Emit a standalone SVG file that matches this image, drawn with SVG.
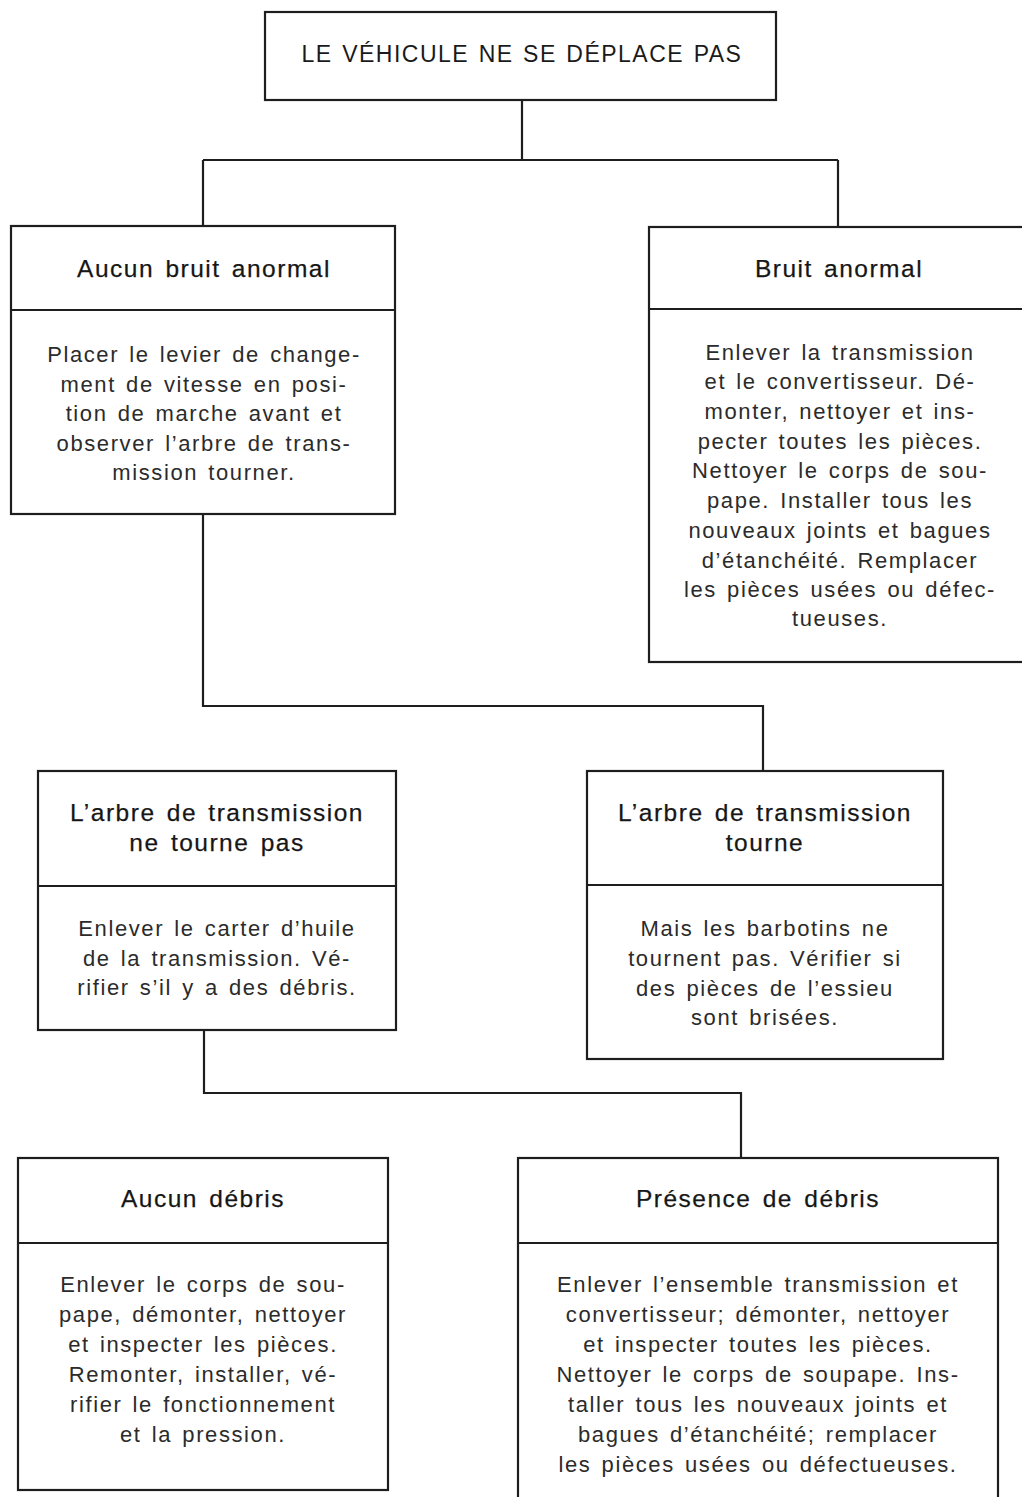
<svg xmlns="http://www.w3.org/2000/svg" width="1022" height="1497" viewBox="0 0 1022 1497">
  <style>
    .box { fill: #ffffff; stroke: #1e1e1e; stroke-width: 2.2; }
    .rule { stroke: #1e1e1e; stroke-width: 2.2; fill: none; }
    .wire { stroke: #1e1e1e; stroke-width: 2.2; fill: none; }
    .head { font-family: "Liberation Sans", Arial, sans-serif; font-size: 23px; letter-spacing: 1.5px; word-spacing: 1.6px; fill: #1a1a1a; text-anchor: middle; }
    .title { font-family: "Liberation Sans", Arial, sans-serif; font-size: 24.5px; letter-spacing: 1.5px; word-spacing: 3px; fill: #161616; stroke: #161616; stroke-width: 0.25; text-anchor: middle; }
    .body { font-family: "Liberation Sans", Arial, sans-serif; font-size: 22px; letter-spacing: 1.6px; word-spacing: 2.5px; fill: #2b2b2b; text-anchor: middle; }
  </style>
  <rect x="0" y="0" width="1022" height="1497" fill="#ffffff"/>

  <!-- connectors -->
  <g id="connectors">
    <path class="wire" d="M522 100 V160 M203 160 H838 M203 160 V226 M838 160 V227"/>
    <path class="wire" d="M203 514 V706 H763 V771"/>
    <path class="wire" d="M204 1030 V1093 H741 V1158"/>
  </g>

  <!-- root -->
  <g id="root">
    <rect class="box" x="265" y="12" width="511" height="88"/>
    <text class="head" x="522" y="62">LE VÉHICULE NE SE DÉPLACE PAS</text>
  </g>

  <!-- no abnormal noise -->
  <g id="no-noise">
    <rect class="box" x="11" y="226" width="384" height="288"/>
    <line class="rule" x1="11" y1="310" x2="395" y2="310"/>
    <text class="title" x="204" y="277">Aucun bruit anormal</text>
    <text class="body" x="204" y="362">Placer le levier de change-</text>
    <text class="body" x="204" y="392">ment de vitesse en posi-</text>
    <text class="body" x="204" y="421">tion de marche avant et</text>
    <text class="body" x="204" y="451">observer l’arbre de trans-</text>
    <text class="body" x="204" y="480">mission tourner.</text>
  </g>

  <!-- abnormal noise -->
  <g id="noise">
    <rect class="box" x="649" y="227" width="390" height="435"/>
    <line class="rule" x1="649" y1="309" x2="1030" y2="309"/>
    <text class="title" x="839" y="277">Bruit anormal</text>
    <text class="body" x="840" y="360">Enlever la transmission</text>
    <text class="body" x="840" y="389">et le convertisseur. Dé-</text>
    <text class="body" x="840" y="419">monter, nettoyer et ins-</text>
    <text class="body" x="840" y="449">pecter toutes les pièces.</text>
    <text class="body" x="840" y="478">Nettoyer le corps de sou-</text>
    <text class="body" x="840" y="508">pape. Installer tous les</text>
    <text class="body" x="840" y="538">nouveaux joints et bagues</text>
    <text class="body" x="840" y="568">d’étanchéité. Remplacer</text>
    <text class="body" x="840" y="597">les pièces usées ou défec-</text>
    <text class="body" x="840" y="626">tueuses.</text>
  </g>

  <!-- shaft does not turn -->
  <g id="shaft-still">
    <rect class="box" x="38" y="771" width="358" height="259"/>
    <line class="rule" x1="38" y1="886" x2="396" y2="886"/>
    <text class="title" x="217" y="821">L’arbre de transmission</text>
    <text class="title" x="217" y="851">ne tourne pas</text>
    <text class="body" x="217" y="936">Enlever le carter d’huile</text>
    <text class="body" x="217" y="966">de la transmission. Vé-</text>
    <text class="body" x="217" y="995">rifier s’il y a des débris.</text>
  </g>

  <!-- shaft turns -->
  <g id="shaft-turns">
    <rect class="box" x="587" y="771" width="356" height="288"/>
    <line class="rule" x1="587" y1="885" x2="943" y2="885"/>
    <text class="title" x="765" y="821">L’arbre de transmission</text>
    <text class="title" x="765" y="851">tourne</text>
    <text class="body" x="765" y="936">Mais les barbotins ne</text>
    <text class="body" x="765" y="966">tournent pas. Vérifier si</text>
    <text class="body" x="765" y="996">des pièces de l’essieu</text>
    <text class="body" x="765" y="1025">sont brisées.</text>
  </g>

  <!-- no debris -->
  <g id="no-debris">
    <rect class="box" x="18" y="1158" width="370" height="332"/>
    <line class="rule" x1="18" y1="1243" x2="388" y2="1243"/>
    <text class="title" x="203" y="1207">Aucun débris</text>
    <text class="body" x="203" y="1292">Enlever le corps de sou-</text>
    <text class="body" x="203" y="1322">pape, démonter, nettoyer</text>
    <text class="body" x="203" y="1352">et inspecter les pièces.</text>
    <text class="body" x="203" y="1382">Remonter, installer, vé-</text>
    <text class="body" x="203" y="1412">rifier le fonctionnement</text>
    <text class="body" x="203" y="1442">et la pression.</text>
  </g>

  <!-- debris found -->
  <g id="debris">
    <rect class="box" x="518" y="1158" width="480" height="360"/>
    <line class="rule" x1="518" y1="1243" x2="998" y2="1243"/>
    <text class="title" x="758" y="1207">Présence de débris</text>
    <text class="body" x="758" y="1292">Enlever l’ensemble transmission et</text>
    <text class="body" x="758" y="1322">convertisseur; démonter, nettoyer</text>
    <text class="body" x="758" y="1352">et inspecter toutes les pièces.</text>
    <text class="body" x="758" y="1382">Nettoyer le corps de soupape. Ins-</text>
    <text class="body" x="758" y="1412">taller tous les nouveaux joints et</text>
    <text class="body" x="758" y="1442">bagues d’étanchéité; remplacer</text>
    <text class="body" x="758" y="1472">les pièces usées ou défectueuses.</text>
  </g>
</svg>
